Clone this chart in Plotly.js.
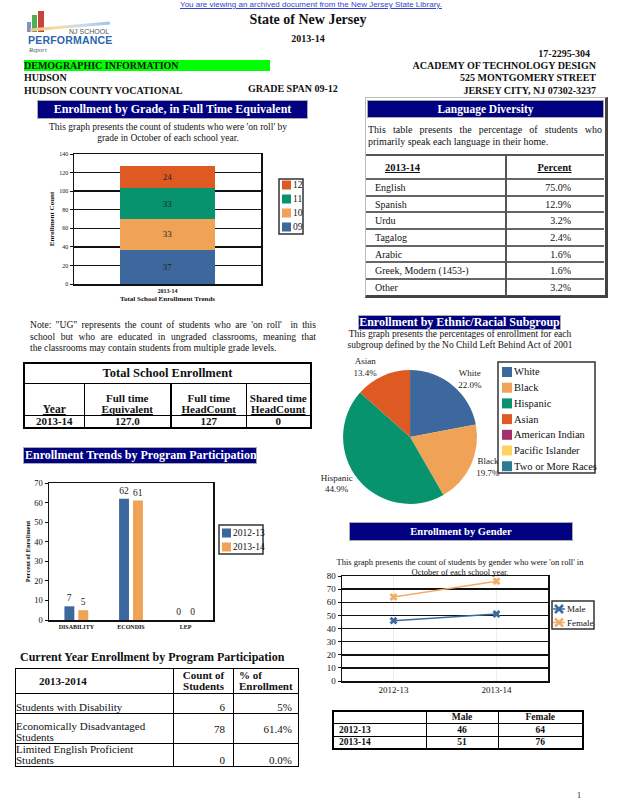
<!DOCTYPE html>
<html><head><meta charset="utf-8">
<script src="https://cdn.plot.ly/plotly-3.0.1.min.js"></script>
<style>
html,body{margin:0;padding:0;background:#fff;}
body{width:618px;height:800px;position:relative;overflow:hidden;font-family:"Liberation Serif","Times New Roman",serif;color:#111;}
.a{position:absolute;white-space:nowrap;line-height:1;}
.b{font-weight:bold;}
.r{text-align:right;}
.c{text-align:center;}
.hdr{position:absolute;background:#000080;color:#fff;font-weight:bold;text-align:center;border:1px solid #aaa;box-sizing:border-box;overflow:hidden;white-space:nowrap;}
.j{position:absolute;text-align:justify;text-align-last:justify;white-space:nowrap;line-height:1;}
.plot{position:absolute;}
table{border-collapse:collapse;position:absolute;table-layout:fixed;}
td{padding:0;overflow:hidden;}
</style></head><body>

<div class="a c" style="left:0;width:622px;top:0;font:8px 'Liberation Sans',Arial,sans-serif;color:#3344cc;text-decoration:underline;">You are viewing an archived document from the New Jersey State Library.</div>

<!-- logo -->
<div style="position:absolute;left:27px;top:22px;width:4px;height:10px;background:#7d95bb"></div>
<div style="position:absolute;left:32px;top:15px;width:5px;height:17px;background:#55ad52"></div>
<div style="position:absolute;left:38px;top:11px;width:6px;height:21px;background:#c9443b"></div>
<div style="position:absolute;left:30px;top:25px;width:80px;height:3px;background:linear-gradient(90deg,#f3c18e,#f2df9e,#c5dcef,#9dc2ea);transform:rotate(-5deg);"></div>
<div class="a" style="left:69px;top:28px;font:7px 'Liberation Sans',Arial,sans-serif;color:#555;">NJ SCHOOL</div>
<div class="a" style="left:28px;top:34px;font:bold 10.5px 'Liberation Sans',Arial,sans-serif;color:#2b66ae;letter-spacing:0.2px;">PERFORMANCE</div>
<div class="a" style="left:29px;top:46px;font:italic 6.5px 'Liberation Serif',serif;color:#556;">Report</div>

<div class="a b c" style="left:158px;width:300px;top:13px;font-size:14px;">State of New Jersey</div>
<div class="a b c" style="left:158px;width:300px;top:34px;font-size:10px;">2013-14</div>
<div class="a b r" style="right:28px;top:49px;font-size:10px;">17-2295-304</div>

<div style="position:absolute;left:24px;top:60px;width:246px;height:11px;background:#00ff00;"></div>
<div class="a b" style="left:24px;top:61px;font-size:10px;">DEMOGRAPHIC INFORMATION</div>
<div class="a b r" style="right:22px;top:61px;font-size:10px;">ACADEMY OF TECHNOLOGY DESIGN</div>
<div class="a b" style="left:24px;top:73px;font-size:10px;">HUDSON</div>
<div class="a b r" style="right:22px;top:73px;font-size:10px;">525 MONTGOMERY STREET</div>
<div class="a b" style="left:24px;top:86px;font-size:10px;">HUDSON COUNTY VOCATIONAL</div>
<div class="a b" style="left:248px;top:84px;font-size:10px;">GRADE SPAN 09-12</div>
<div class="a b r" style="right:22px;top:86px;font-size:10px;">JERSEY CITY, NJ 07302-3237</div>

<!-- Enrollment by grade -->
<div class="hdr" style="left:37px;top:100px;width:271px;height:19px;font-size:12px;line-height:17px;">Enrollment by Grade, in Full Time Equivalent</div>
<div class="a c" style="left:18px;width:300px;top:123px;font-size:9.5px;">This graph presents the count of students who were 'on roll' by</div>
<div class="a c" style="left:18px;width:300px;top:134px;font-size:9.5px;">grade in October of each school year.</div>
<div id="g1" class="plot" style="left:40px;top:145px;width:280px;height:165px;"></div>

<!-- Note -->
<div class="j" style="left:30px;width:286px;top:320px;font-size:9.6px;">Note: "UG" represents the count of students who are 'on roll'&nbsp; in this</div>
<div class="j" style="left:30px;width:286px;top:332px;font-size:9.6px;">school but who are educated in ungraded classrooms, meaning that</div>
<div class="a" style="left:30px;top:343px;font-size:9.6px;">the classrooms may contain students from multiple grade levels.</div>

<table id="tse" style="left:23px;top:362px;width:287px;border:2px solid #000;"></table>

<!-- Language diversity -->
<div style="position:absolute;left:365px;top:97px;width:239px;height:197px;border:1px solid #bbb;border-right:3px solid #444;border-bottom:3px solid #444;"></div>
<div class="hdr" style="left:367px;top:100px;width:237px;height:18px;font-size:11.5px;line-height:16px;">Language Diversity</div>
<div class="j" style="left:368px;width:234px;top:125px;font-size:10px;">This table presents the percentage of students who</div>
<div class="a" style="left:368px;top:137px;font-size:10px;">primarily speak each language in their home.</div>
<table id="lang" style="left:366px;top:154px;width:238px;"></table>

<!-- Program participation -->
<div class="hdr" style="left:23px;top:447px;width:234px;height:17px;font-size:12px;line-height:15px;text-align:left;padding-left:1px;">Enrollment Trends by Program Participation</div>
<div id="g2" class="plot" style="left:0px;top:470px;width:300px;height:170px;"></div>

<div class="a b" style="left:20px;top:651px;font-size:12px;">Current Year Enrollment by Program Participation</div>
<table id="cur" style="left:15px;top:668px;width:283px;border:1.5px solid #000;"></table>

<!-- Ethnic -->
<div class="hdr" style="left:358px;top:315px;width:203px;height:15px;font-size:12px;line-height:13px;">Enrollment by Ethnic/Racial Subgroup</div>
<div class="a c" style="left:310px;width:300px;top:330px;font-size:9.5px;">This graph presents the percentages of enrollment for each</div>
<div class="a c" style="left:310px;width:300px;top:341px;font-size:9.5px;">subgroup defined by the No Child Left Behind Act of 2001</div>
<div id="g3" class="plot" style="left:310px;top:355px;width:300px;height:155px;"></div>

<!-- Gender -->
<div class="hdr" style="left:349px;top:522px;width:224px;height:19px;font-size:10.5px;line-height:17px;">Enrollment by Gender</div>
<div id="g4" class="plot" style="left:320px;top:565px;width:298px;height:130px;"></div>
<div class="a c" style="left:310px;width:300px;top:558px;font-size:8.5px;z-index:5;">This graph presents the count of students by gender who were 'on roll' in</div>
<div class="a c" style="left:310px;width:300px;top:568px;font-size:8.5px;z-index:5;">October of each school year.</div>
<table id="gen" style="left:332px;top:710px;width:250px;border:2px solid #000;"></table>

<div class="a" style="left:577px;top:792px;font-size:8px;">1</div>

<script>
// ---------- data ----------
const gradeYears = ['2013-14'];
const grade09 = [37];
const grade10 = [33];
const grade11 = [33];
const grade12 = [24];

const enrollYears = ['2013-14'];
const enrollFTE = [127.0];
const enrollHeadCount = [127];
const enrollShared = [0];

const languageYear = '2013-14';
const languages = ['English', 'Spanish', 'Urdu', 'Tagalog', 'Arabic', 'Greek, Modern (1453-)', 'Other'];
const languagePct = [75.0, 12.9, 3.2, 2.4, 1.6, 1.6, 3.2];

const programCats = ['DISABILITY', 'ECONDIS', 'LEP'];
const program1213 = [7, 62, 0];
const program1314 = [5, 61, 0];

const currentYear = '2013-2014';
const programNames = ['Students with Disability', 'Economically Disadvantaged Students', 'Limited English Proficient Students'];
const programCounts = [6, 78, 0];
const programPercents = ['5%', '61.4%', '0.0%'];

const ethnicLabels = ['White', 'Black', 'Hispanic', 'Asian', 'American Indian', 'Pacific Islander', 'Two or More Races'];
const ethnicPct = [22.0, 19.7, 44.9, 13.4, 0, 0, 0];

const genderYears = ['2012-13', '2013-14'];
const maleCount = [46, 51];
const femaleCount = [64, 76];

// ---------- styles ----------
const BLUE = '#3d689d', ORANGE = '#f0a356', GREEN = '#07936e', RED = '#de5a22', LORANGE = '#f5ad66';
const PIECOL = [BLUE, ORANGE, GREEN, RED, '#a2306c', '#fcd35f', '#2c7b95'];
const FF = 'Liberation Serif, Times New Roman, serif';
const cfg = {staticPlot: true, displayModeBar: false};
const axLine = {showline: true, mirror: true, linecolor: '#111', linewidth: 1.5, zeroline: false};

// compact boxed legend drawn with layout shapes/annotations (page-pixel layout -> paper coords)
function boxLegend(plot, box, rowY0, rowDy, swX, swS, txtX, fs, items) {
  const px = X => (X - plot[0]) / plot[2];
  const py = Y => (plot[1] + plot[3] - Y) / plot[3];
  const P = {xref: 'paper', yref: 'paper'};
  const shapes = [Object.assign({type: 'rect', x0: px(box[0]), x1: px(box[2]), y0: py(box[3]), y1: py(box[1]),
    line: {color: '#333', width: 1.5}, fillcolor: '#fff', layer: 'below'}, P)];
  const annotations = [];
  items.forEach((it, i) => {
    const yc = rowY0 + i * rowDy;
    if (it.kind === 'line') {
      const cx = swX + swS / 2, h = 4;
      shapes.push(Object.assign({type: 'line', x0: px(swX - 1), x1: px(swX + swS + 1), y0: py(yc), y1: py(yc), line: {color: it.color, width: 1.5}}, P));
      shapes.push(Object.assign({type: 'line', x0: px(cx - h), x1: px(cx + h), y0: py(yc - h), y1: py(yc + h), line: {color: it.color, width: 2.5}}, P));
      shapes.push(Object.assign({type: 'line', x0: px(cx - h), x1: px(cx + h), y0: py(yc + h), y1: py(yc - h), line: {color: it.color, width: 2.5}}, P));
    } else {
      shapes.push(Object.assign({type: 'rect', x0: px(swX), x1: px(swX + swS), y0: py(yc + swS / 2), y1: py(yc - swS / 2),
        line: {width: 0}, fillcolor: it.color, layer: 'below'}, P));
    }
    annotations.push(Object.assign({x: px(txtX), y: py(yc), xanchor: 'left', yanchor: 'middle', text: it.name, showarrow: false,
      borderpad: 0, font: {size: fs, family: FF, color: '#111'}}, P));
  });
  return {shapes, annotations};
}

// ---------- tables ----------
(function () {
  const bd = 'border:1px solid #000;';
  let h = '<colgroup><col style="width:60px"><col style="width:87px"><col style="width:75px"><col style="width:65px"></colgroup>';
  h += '<tr style="height:20px"><td colspan="4" class="c b" style="font-size:12.5px;' + bd + '">Total School Enrollment</td></tr>';
  h += '<tr style="height:32px">' +
    '<td class="c b" style="vertical-align:bottom;font-size:11.5px;line-height:11px;' + bd + '"><u>Year</u></td>' +
    '<td class="c b" style="vertical-align:bottom;font-size:11px;line-height:11px;' + bd + '">Full time<br><u>Equivalent</u></td>' +
    '<td class="c b" style="vertical-align:bottom;font-size:11px;line-height:11px;border:1px solid #000;border-left:2px solid #000;">Full time<br><u>HeadCount</u></td>' +
    '<td class="c b" style="vertical-align:bottom;font-size:11px;line-height:11px;' + bd + '">Shared time<br><u>HeadCount</u></td></tr>';
  for (let i = 0; i < enrollYears.length; i++) {
    h += '<tr style="height:12px">' +
      '<td class="c b" style="font-size:11px;line-height:11px;' + bd + '">' + enrollYears[i] + '</td>' +
      '<td class="c b" style="font-size:11px;line-height:11px;' + bd + '">' + enrollFTE[i].toFixed(1) + '</td>' +
      '<td class="c b" style="font-size:11px;line-height:11px;border:1px solid #000;border-left:2px solid #000;">' + enrollHeadCount[i] + '</td>' +
      '<td class="c b" style="font-size:11px;line-height:11px;' + bd + '">' + enrollShared[i] + '</td></tr>';
  }
  document.getElementById('tse').innerHTML = h;

  let l = '<colgroup><col style="width:140px"><col style="width:98px"></colgroup>';
  l += '<tr style="height:24px;border-top:2px solid #555;"><td class="b" style="font-size:10.5px;padding-left:19px;border-right:2px solid #555;"><u>' + languageYear + '</u></td>' +
    '<td class="b c" style="font-size:10.5px;padding-right:2px;"><u>Percent</u></td></tr>';
  for (let i = 0; i < languages.length; i++) {
    l += '<tr style="height:16.7px;border-top:2px solid #666;"><td style="font-size:10px;padding-left:9px;border-right:2px solid #555;">' + languages[i] + '</td>' +
      '<td class="r" style="font-size:10px;padding-right:33px;">' + languagePct[i].toFixed(1) + '%</td></tr>';
  }
  document.getElementById('lang').innerHTML = l;

  const cb = 'border:1px solid #000;';
  let c = '<colgroup><col style="width:158px"><col style="width:60px"><col style="width:65px"></colgroup>';
  c += '<tr style="height:25px"><td class="b" style="font-size:11px;padding-left:23px;' + cb + '">' + currentYear + '</td>' +
    '<td class="b c" style="font-size:11px;line-height:11px;' + cb + '">Count of<br>Students</td>' +
    '<td class="b" style="font-size:11px;line-height:11px;padding-left:5px;' + cb + '">% of<br>Enrollment</td></tr>';
  const rh = [20, 30, 23];
  for (let i = 0; i < programNames.length; i++) {
    const va = (i === 1 ? 'middle' : 'bottom');
    c += '<tr style="height:' + rh[i] + 'px"><td style="font-size:11px;line-height:11px;vertical-align:bottom;' + cb + '">' + programNames[i] + '</td>' +
      '<td class="r" style="font-size:11px;padding-right:8px;vertical-align:' + va + ';' + cb + '">' + programCounts[i] + '</td>' +
      '<td class="r" style="font-size:11px;padding-right:6px;vertical-align:' + va + ';' + cb + '">' + programPercents[i] + '</td></tr>';
  }
  document.getElementById('cur').innerHTML = c;

  const gb = 'border:1.5px solid #000;';
  let g = '<colgroup><col style="width:93px"><col style="width:72px"><col style="width:85px"></colgroup>';
  g += '<tr style="height:12px"><td style="' + gb + '"></td><td class="b c" style="font-size:9.5px;line-height:10px;' + gb + '">Male</td><td class="b c" style="font-size:9.5px;line-height:10px;' + gb + '">Female</td></tr>';
  for (let i = 0; i < genderYears.length; i++) {
    g += '<tr style="height:13px"><td class="b" style="font-size:9.5px;line-height:10px;padding-left:5px;' + gb + '">' + genderYears[i] + '</td>' +
      '<td class="b c" style="font-size:9.5px;line-height:10px;' + gb + '">' + maleCount[i] + '</td>' +
      '<td class="b c" style="font-size:9.5px;line-height:10px;' + gb + '">' + femaleCount[i] + '</td></tr>';
  }
  document.getElementById('gen').innerHTML = g;
})();

// ---------- chart 1: enrollment by grade ----------
const gradeSeries = [['09', grade09, BLUE], ['10', grade10, ORANGE], ['11', grade11, GREEN], ['12', grade12, RED]];
const leg1 = boxLegend([74, 154, 187, 130], [279, 179, 303, 234], 185, 14, 282, 9, 292, 9.5,
  gradeSeries.slice().reverse().map(s => ({name: s[0], color: s[2]})));
Plotly.newPlot('g1', gradeSeries.map(s => ({
  type: 'bar', name: s[0], x: gradeYears, y: s[1], marker: {color: s[2]},
  text: s[1].map(String), textposition: 'inside', insidetextanchor: 'middle',
  textfont: {size: 9, color: '#222', family: FF}
})), {
  barmode: 'stack', bargap: 0.49, width: 280, height: 165,
  margin: {l: 34, r: 59, t: 9, b: 26},
  paper_bgcolor: 'rgba(0,0,0,0)', plot_bgcolor: '#fff',
  font: {family: FF, color: '#111'},
  xaxis: Object.assign({type: 'category', range: [-0.5, 0.5], tickfont: {size: 6, weight: 'bold'}, ticks: '',
    title: {text: 'Total School Enrollment Trends', font: {size: 7, weight: 'bold'}, standoff: 3}, automargin: false}, axLine),
  yaxis: Object.assign({range: [0, 140], dtick: 20, tickfont: {size: 6}, ticks: 'outside', ticklen: 3, tickcolor: '#111',
    showgrid: true, gridcolor: '#111', gridwidth: 1.5,
    title: {text: 'Enrollment Count', font: {size: 7, weight: 'bold'}, standoff: 4}, automargin: false}, axLine),
  shapes: leg1.shapes, annotations: leg1.annotations,
  showlegend: false, hovermode: false
}, cfg);

// ---------- chart 2: program participation ----------
const progSeries = [['2012-13', program1213, BLUE], ['2013-14', program1314, ORANGE]];
const leg2 = boxLegend([49, 483, 164, 137], [219, 525, 263, 554], 533, 14, 222, 9, 232, 9.5,
  progSeries.map(s => ({name: s[0], color: s[2]})));
Plotly.newPlot('g2', progSeries.map(s => ({
  type: 'bar', name: s[0], x: programCats, y: s[1], marker: {color: s[2]},
  text: s[1].map(String), textposition: 'outside', cliponaxis: false,
  textfont: {size: 9.5, family: FF, color: '#222'}
})), {
  barmode: 'group', bargap: 0.49, bargroupgap: 0.29, width: 300, height: 170,
  margin: {l: 49, r: 87, t: 13, b: 20},
  paper_bgcolor: 'rgba(0,0,0,0)', plot_bgcolor: '#fff',
  font: {family: FF, color: '#111'},
  xaxis: Object.assign({type: 'category', range: [-0.5, 2.5], tickfont: {size: 6, weight: 'bold'}, ticks: '', automargin: false}, axLine),
  yaxis: Object.assign({range: [0, 70], dtick: 10, tickfont: {size: 8.5}, ticks: 'outside', ticklen: 3, tickcolor: '#111',
    showgrid: false, title: {text: 'Percent of Enrollment', font: {size: 6.5, weight: 'bold'}, standoff: 3}, automargin: false}, axLine),
  shapes: leg2.shapes, annotations: leg2.annotations,
  showlegend: false, hovermode: false
}, cfg);

// ---------- chart 3: ethnic pie ----------
const leg3 = boxLegend([310, 355, 300, 155], [498, 362, 595, 473], 372, 15.7, 502, 10, 513, 10.5,
  ethnicLabels.map((n, i) => ({name: n, color: PIECOL[i]})));
Plotly.newPlot('g3', [{
  type: 'pie', labels: ethnicLabels, values: ethnicPct, sort: false, direction: 'clockwise', rotation: 0,
  marker: {colors: PIECOL, line: {width: 0}},
  textposition: 'outside',
  texttemplate: ethnicPct.map(v => v > 0 ? '%{label}<br>%{percent:.1%}' : ''),
  textfont: {size: 9, family: FF, color: '#222'},
  domain: {x: [0.11, 0.557], y: [0.039, 0.903]}, automargin: false
}], {
  width: 300, height: 155, margin: {l: 0, r: 0, t: 0, b: 0},
  paper_bgcolor: 'rgba(0,0,0,0)', font: {family: FF, color: '#111'},
  shapes: leg3.shapes, annotations: leg3.annotations,
  showlegend: false, hovermode: false
}, cfg);

// ---------- chart 4: gender ----------
const genSeries = [['Male', maleCount, BLUE], ['Female', femaleCount, LORANGE]];
const leg4 = boxLegend([342, 576, 206, 105], [552, 601, 594, 629], 609, 13.5, 554, 10, 566, 9,
  genSeries.map(s => ({name: s[0], color: s[2], kind: 'line'})));
Plotly.newPlot('g4', genSeries.map(s => ({
  type: 'scatter', mode: 'lines+markers', name: s[0], x: genderYears, y: s[1],
  line: {color: s[2], width: 1.5}, marker: {symbol: 'x', size: 7, color: s[2]}
})), {
  width: 298, height: 130, margin: {l: 22, r: 70, t: 11, b: 14},
  paper_bgcolor: 'rgba(0,0,0,0)', plot_bgcolor: '#fff',
  font: {family: FF, color: '#111'},
  xaxis: Object.assign({type: 'category', range: [-0.5, 1.5], tickfont: {size: 9}, ticks: '', automargin: false}, axLine),
  yaxis: Object.assign({range: [0, 80], dtick: 10, tickfont: {size: 9}, ticks: 'outside', ticklen: 3, tickcolor: '#111',
    showgrid: true, gridcolor: '#111', gridwidth: 1.5, automargin: false}, axLine),
  shapes: leg4.shapes, annotations: leg4.annotations,
  showlegend: false, hovermode: false
}, cfg);
</script>
</body></html>
